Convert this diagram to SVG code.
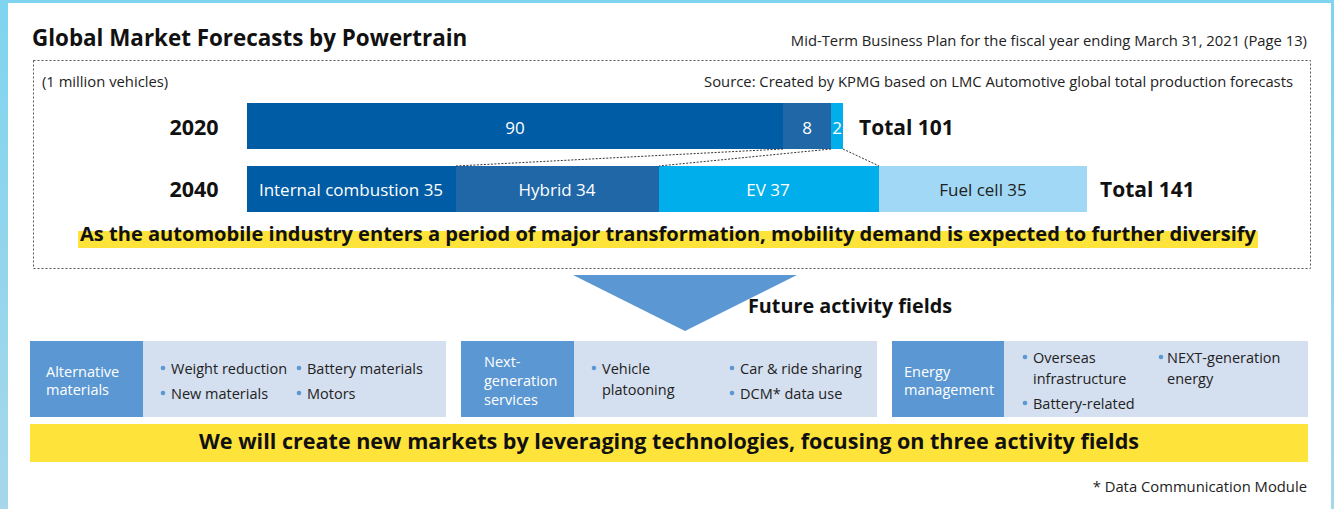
<svg xmlns="http://www.w3.org/2000/svg" width="1334" height="509" viewBox="0 0 1334 509">
<defs>
<linearGradient id="fr" x1="0" y1="0" x2="0" y2="1">
<stop offset="0" stop-color="#7fd4ef"/>
<stop offset="1" stop-color="#a6d7ea"/>
</linearGradient>
<style>
text{font-family:"Open Sans","Noto Sans","Liberation Sans",sans-serif;}
.b{font-weight:bold;fill:#111;}
.sm{font-size:14.8px;fill:#222;}
.bar{font-size:17px;fill:#fff;text-anchor:middle;}
.cat{font-size:14.5px;fill:#fff;}
.item{font-size:14.5px;fill:#222;}
.dot{fill:#5b97d3;}
.dk{fill:#5b97d3;}
.lt{fill:#d4dff0;}
.conn{stroke:#333;stroke-width:1;stroke-dasharray:2 1.5;fill:none;}
</style>
</defs>
<rect width="1334" height="509" fill="url(#fr)"/>
<rect x="8" y="3" width="1323" height="506" fill="#fff"/>

<g id="header">
<text x="32" y="46" class="b" font-size="22.4">Global Market Forecasts by Powertrain</text>
<text x="1307" y="46" class="sm" text-anchor="end">Mid-Term Business Plan for the fiscal year ending March 31, 2021 (Page 13)</text>
</g>

<g id="forecast-box">
<rect x="33.5" y="60.5" width="1277" height="208" fill="none" stroke="#555" stroke-width="1" stroke-dasharray="2 2"/>
<text x="42" y="87" class="sm">(1 million vehicles)</text>
<text x="1293" y="87" class="sm" text-anchor="end">Source: Created by KPMG based on LMC Automotive global total production forecasts</text>
</g>

<g id="bar-2020">
<text x="194" y="135" class="b" font-size="21.5" text-anchor="middle">2020</text>
<rect x="247" y="103" width="536" height="46" fill="#005ca5"/>
<rect x="783" y="103" width="48" height="46" fill="#2067a8"/>
<rect x="831" y="103" width="12" height="46" fill="#00aeeb"/>
<text x="515" y="134" class="bar">90</text>
<text x="807" y="134" class="bar">8</text>
<text x="837" y="134" class="bar" font-size="16">2</text>
<text x="859" y="135" class="b" font-size="21">Total 101</text>
</g>

<g id="bar-2040">
<text x="194" y="197" class="b" font-size="21.5" text-anchor="middle">2040</text>
<rect x="247" y="166" width="209" height="46" fill="#005ca5"/>
<rect x="456" y="166" width="203" height="46" fill="#2067a8"/>
<rect x="659" y="166" width="220" height="46" fill="#00aeeb"/>
<rect x="879" y="166" width="208" height="46" fill="#a1d8f5"/>
<text x="351" y="196" class="bar">Internal combustion 35</text>
<text x="557" y="196" class="bar">Hybrid 34</text>
<text x="768" y="196" class="bar">EV 37</text>
<text x="983" y="196" class="bar" style="fill:#222">Fuel cell 35</text>
<text x="1100" y="197" class="b" font-size="21">Total 141</text>
</g>

<g id="connectors">
<line class="conn" x1="783" y1="149" x2="456" y2="166"/>
<line class="conn" x1="831" y1="149" x2="659" y2="166"/>
<line class="conn" x1="843" y1="149" x2="879" y2="166"/>
</g>

<g id="message">
<rect x="78" y="231" width="1180" height="17" fill="#fee33b"/>
<text x="668" y="241" class="b" font-size="19" text-anchor="middle" textLength="1176" lengthAdjust="spacingAndGlyphs">As the automobile industry enters a period of major transformation, mobility demand is expected to further diversify</text>
</g>

<g id="arrow">
<polygon points="573,275 797,275 685,331" fill="#5b97d3"/>
<text x="748" y="313" class="b" font-size="19.8">Future activity fields</text>
</g>

<g id="alt-materials">
<rect x="30" y="341" width="113" height="76" class="dk"/>
<rect x="143" y="341" width="303" height="76" class="lt"/>
<text x="46" y="377" class="cat">Alternative</text>
<text x="46" y="395" class="cat">materials</text>
<circle cx="163" cy="368" r="2.3" class="dot"/>
<text x="171" y="374" class="item">Weight reduction</text>
<circle cx="299" cy="368" r="2.3" class="dot"/>
<text x="307" y="374" class="item">Battery materials</text>
<circle cx="163" cy="393" r="2.3" class="dot"/>
<text x="171" y="399" class="item">New materials</text>
<circle cx="299" cy="393" r="2.3" class="dot"/>
<text x="307" y="399" class="item">Motors</text>
</g>

<g id="next-gen-services">
<rect x="461" y="341" width="113" height="76" class="dk"/>
<rect x="574" y="341" width="303" height="76" class="lt"/>
<text x="484" y="367" class="cat">Next-</text>
<text x="484" y="386" class="cat">generation</text>
<text x="484" y="405" class="cat">services</text>
<circle cx="594" cy="368" r="2.3" class="dot"/>
<text x="602" y="374" class="item">Vehicle</text>
<text x="602" y="395" class="item">platooning</text>
<circle cx="732" cy="368" r="2.3" class="dot"/>
<text x="740" y="374" class="item">Car &amp; ride sharing</text>
<circle cx="732" cy="393" r="2.3" class="dot"/>
<text x="740" y="399" class="item">DCM* data use</text>
</g>

<g id="energy-management">
<rect x="892" y="341" width="112" height="76" class="dk"/>
<rect x="1004" y="341" width="304" height="76" class="lt"/>
<text x="904" y="377" class="cat">Energy</text>
<text x="904" y="395" class="cat">management</text>
<circle cx="1025" cy="357" r="2.3" class="dot"/>
<text x="1033" y="363" class="item">Overseas</text>
<text x="1033" y="384" class="item">infrastructure</text>
<circle cx="1025" cy="403" r="2.3" class="dot"/>
<text x="1033" y="409" class="item">Battery-related</text>
<circle cx="1161" cy="357" r="2.3" class="dot"/>
<text x="1167" y="363" class="item">NEXT-generation</text>
<text x="1167" y="384" class="item">energy</text>
</g>

<g id="conclusion">
<rect x="30" y="424" width="1278" height="38" fill="#fee33b"/>
<text x="669" y="449" class="b" font-size="21" text-anchor="middle" textLength="940" lengthAdjust="spacingAndGlyphs">We will create new markets by leveraging technologies, focusing on three activity fields</text>
</g>

<g id="footnote">
<text x="1307" y="492" class="sm" text-anchor="end">* Data Communication Module</text>
</g>
</svg>
